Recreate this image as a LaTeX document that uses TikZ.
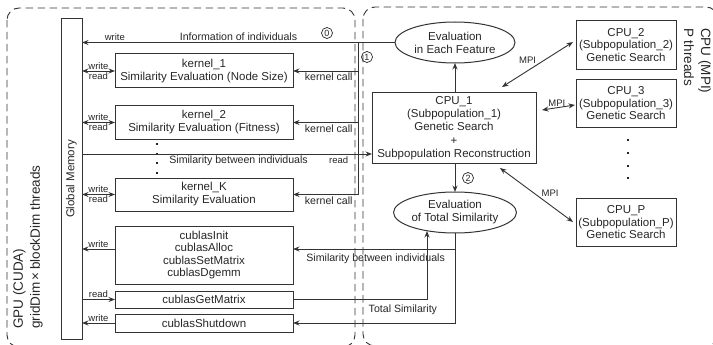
\documentclass[tikz,border=0pt]{standalone}
\usepackage{fontspec}
\setmainfont{Liberation Sans}
\usetikzlibrary{arrows.meta,shapes.geometric}

\newcommand\fmain{\fontsize{11.5}{13}\selectfont}
\newcommand\fmid{\fontsize{10.6}{12}\selectfont}
\newcommand\fsml{\fontsize{9.5}{11}\selectfont}
\newcommand\fbig{\fontsize{13.5}{17}\selectfont}

\definecolor{ink}{HTML}{262626}
\definecolor{wire}{HTML}{333333}

\begin{document}
\begin{tikzpicture}[x=1pt,y=-1pt,
  every node/.style={text=ink},
  region/.style={draw=wire,line width=0.9pt,dash pattern=on 7.5pt off 4.5pt,rounded corners=12pt},
  gbox/.style={draw=wire,line width=1pt,minimum width=178pt,inner sep=0pt,outer sep=0pt,align=center,font=\fmain},
  cbox/.style={draw=wire,line width=1pt,minimum width=100pt,minimum height=48.5pt,inner sep=0pt,outer sep=0pt,align=center,font=\fmain},
  oval/.style={draw=wire,line width=1pt,ellipse,minimum width=120pt,minimum height=41pt,inner sep=0pt,outer sep=0pt,align=center,font=\fmain},
  wline/.style={draw=wire,line width=0.9pt},
  arr/.style={wline,-{Stealth[length=6.5pt,width=5pt]}},
  darr/.style={wline,{Stealth[length=6.5pt,width=5pt]}-{Stealth[length=6.5pt,width=5pt]}},
  lab/.style={font=\fsml,inner sep=1pt},
  mlab/.style={font=\fmid,inner sep=1.5pt},
  step num/.style={circle,draw=ink,line width=0.7pt,minimum size=11pt,inner sep=0pt,font=\fontsize{9}{9}\selectfont},
  dotmark/.style={fill=ink,minimum size=2.6pt,inner sep=0pt,outer sep=0pt}
]
\useasboundingbox (0,0) rectangle (713,345);

% GPU and CPU regions
\draw[region] (7,8) rectangle (355,347);
\draw[region] (363,7) rectangle (718,346);

\node[rotate=90,anchor=north west,align=left,font=\fbig,inner sep=0pt] (gpulab) at (13,329)
  {GPU (CUDA)\\gridDim\,×\,blockDim threads};
\node[rotate=-90,anchor=north west,align=left,font=\fbig,inner sep=0pt] (cpulab) at (711,28)
  {CPU (MPI)\\P threads};

% global memory
\node[draw=wire,line width=1pt,minimum width=21pt,minimum height=320pt,inner sep=0pt,outer sep=0pt] (gm) at (71.5,179) {};
\node[rotate=90,font=\fmain,inner sep=0pt] (gmlab) at (gm.center) {Global Memory};

% GPU kernels and cuBLAS calls
\node[gbox,minimum height=34pt] (k1) at (204,71) {kernel\_1\\Similarity Evaluation (Node Size)};
\node[gbox,minimum height=33pt] (k2) at (204,122.5) {kernel\_2\\Similarity Evaluation (Fitness)};
\node[gbox,minimum height=33pt] (kK) at (204,194.5) {kernel\_K\\Similarity Evaluation};
\node[gbox,minimum height=58pt,font=\fontsize{11.5}{12.4}\selectfont] (cb) at (204,255) {cublasInit\\cublasAlloc\\cublasSetMatrix\\cublasDgemm};
\node[gbox,minimum height=17pt] (gt) at (204,299.5) {cublasGetMatrix};
\node[gbox,minimum height=18pt] (sd) at (204,323) {cublasShutdown};

\foreach \yy [count=\i] in {144,154,163,173} \node[dotmark] (ld\i) at (157,\yy) {};

% CPU side
\node[draw=wire,line width=1pt,minimum width=164pt,minimum height=70pt,inner sep=0pt,outer sep=0pt,align=center,font=\fontsize{11.5}{13.2}\selectfont] (cpu1) at (454,128)
  {CPU\_1\\(Subpopulation\_1)\\Genetic Search\\+\\Subpopulation Reconstruction};
\node[oval] (ev1) at (455,42.5) {Evaluation\\in Each Feature};
\node[oval] (ev2) at (455,212.5) {Evaluation\\of Total Similarity};
\node[cbox,font=\fontsize{11.5}{12.5}\selectfont] (c2) at (626,45) {CPU\_2\\(Subpopulation\_2)\\Genetic Search};
\node[cbox,font=\fontsize{11.5}{12.5}\selectfont] (c3) at (626,103.5) {CPU\_3\\(Subpopulation\_3)\\Genetic Search};
\node[cbox,font=\fontsize{11.5}{12.5}\selectfont] (cP) at (626,222.5) {CPU\_P\\(Subpopulation\_P)\\Genetic Search};
\foreach \yy [count=\i] in {140,153,166,178} \node[dotmark] (rd\i) at (628,\yy) {};

% step markers
\node[step num] (s0) at (327,33) {0};
\node[step num] (s1) at (367,57) {1};
\node[step num] (s2) at (468,178) {2};

% junction points
\coordinate (vtop) at (358,42.5);
\coordinate (vbot) at (358,194.5);
\coordinate (simy) at (0,154);
\coordinate (cby) at (0,249);
\coordinate (tsx) at (427,0);
\coordinate (tstip) at (427,231);
\coordinate (m2a) at (502,87);
\coordinate (m2b) at (573,42);
\coordinate (m3a) at (542,110);
\coordinate (m3b) at (575,105);
\coordinate (mPa) at (500,168);
\coordinate (mPb) at (573,222);

% information of individuals and kernel calls
\draw[arr] (ev1.west) -- node[mlab,above,pos=0.5] {Information of individuals}
  node[lab,above,pos=0.895] {write} (ev1.west -| gm.east);
\draw[wline] (vtop) -- (vbot);
\draw[arr] (vtop |- k1.east) -- node[mlab,below,pos=0.45] {kernel call} (k1.east);
\draw[arr] (vtop |- k2.east) -- node[mlab,below,pos=0.45] {kernel call} (k2.east);
\draw[arr] (vbot) -- node[mlab,below,pos=0.45] {kernel call} (kK.east);

% global memory access
\foreach \k in {k1,k2,kK}
  \draw[darr] (gm.east |- \k.west) -- node[lab,above] {write} node[lab,below] {read} (\k.west);
\draw[arr] (cb.west |- cby) -- node[lab,above] {write} (gm.east |- cby);
\draw[arr] (gm.east |- gt.west) -- node[lab,above] {read} (gt.west);
\draw[arr] (sd.west) -- node[lab,above] {write} (gm.east |- sd.west);

\draw[arr] (gm.east |- simy) -- node[mlab,below,pos=0.54] {Similarity between individuals}
  node[lab,below=1pt,pos=0.885] {read} (cpu1.west |- simy);

% evaluation flow
\draw[arr] (cpu1.north -| ev1.south) -- (ev1.south);
\draw[arr] (cpu1.south -| ev2.north) -- (ev2.north);
\draw[arr] (ev2.south) -- (ev2.south |- sd.east) -- (sd.east);
\draw[arr] (ev2.south |- cby) -- node[mlab,below=3pt,pos=0.49] {Similarity between individuals} (cb.east |- cby);
\draw[arr] (gt.east) -- node[mlab,below=3pt,pos=0.82] {Total Similarity} (tsx |- gt.east) -- (tstip);

% MPI links
\draw[darr] (m2a) -- node[lab,above left=0pt,pos=0.5] {MPI} (m2b);
\draw[darr] (m3a) -- node[lab,above,pos=0.45] {MPI} (m3b);
\draw[darr] (mPa) -- node[lab,above right=0pt,pos=0.55] {MPI} (mPb);
\end{tikzpicture}
\end{document}
